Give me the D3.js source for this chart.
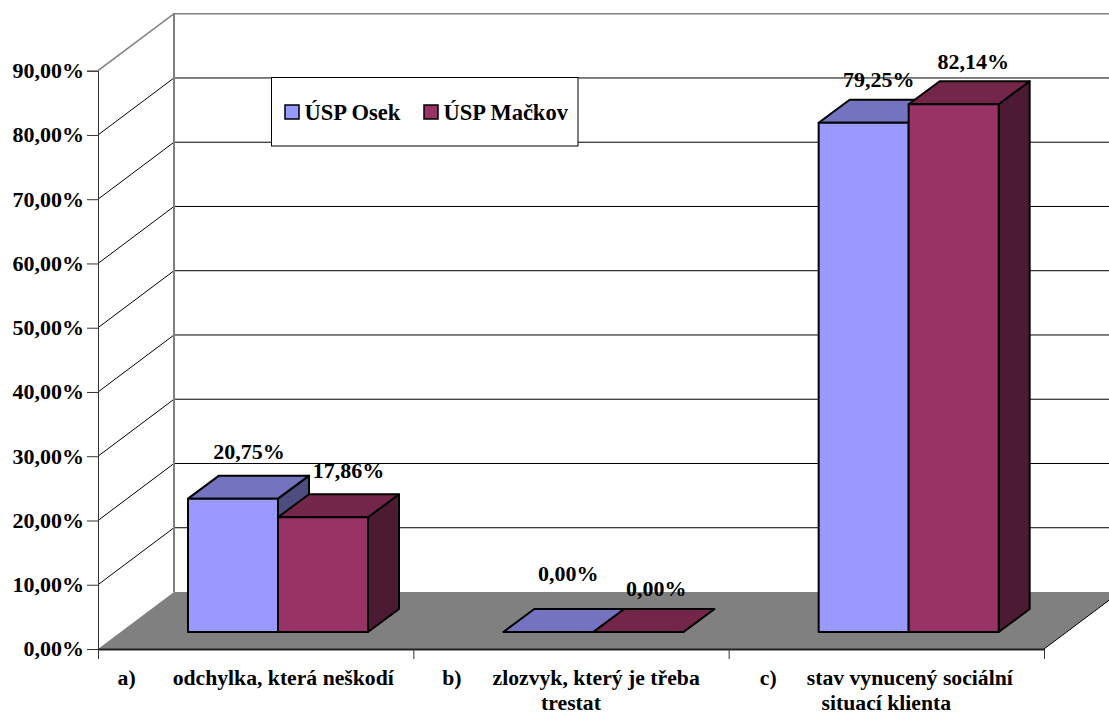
<!DOCTYPE html>
<html lang="cs">
<head>
<meta charset="utf-8">
<title>ÚSP Osek a ÚSP Mačkov</title>
<script src="https://cdn.jsdelivr.net/npm/d3@7"></script>
<style>
  html, body { margin: 0; padding: 0; background: #fff; }
  svg { display: block; }
  text { font-family: "Liberation Serif", "Times New Roman", serif; font-weight: 700; fill: #000; }
</style>
</head>
<body>
<svg id="chart" width="1109" height="715"></svg>
<script>
// Chart data
const categories = ["a", "b", "c"];
const categoryMarkers = ["a)", "b)", "c)"];
const categoryLines = [
  ["odchylka, která neškodí"],
  ["zlozvyk, který je třeba", "trestat"],
  ["stav vynucený sociální", "situací klienta"]
];
const seriesNames = ["ÚSP Osek", "ÚSP Mačkov"];
const osekValues = [20.75, 0, 79.25];
const mackovValues = [17.86, 0, 82.14];
const yTickValues = [0, 10, 20, 30, 40, 50, 60, 70, 80, 90];

// Hand-placed data label offsets from each bar's top centre: [dx, dy] by category
const osekLabelOffsets = [[16, -40], [20, -51], [15, -35.5]];
const mackovLabelOffsets = [[25.5, -39], [18, -36], [19.5, -35]];
// Space between a category's marker and its description
const markerGaps = [37, 31, 30];

// Oblique projection of the chart box
const plot = { left: 98, right: 1044, floorY: 649, topY: 70.7 };
const wallDepth = { x: 76, y: -57 };
const barDepth = { x: 31, y: -23 };
const barBaseY = 632;
const palette = {
  osek: { front: "#9999ff", top: "#7373bf", side: "#4d4d80" },
  mackov: { front: "#993366", top: "#732649", side: "#4d1a33" }
};

const svg = d3.select("#chart");
const fmtPct = v => d3.format(".2f")(v).replace(".", ",") + "%";

const y = d3.scaleLinear().domain([0, 90]).range([plot.floorY, plot.topY]);
const x0 = d3.scaleBand().domain(categories).range([plot.left, plot.right]);
const x1 = d3.scaleBand().domain(seriesNames).range([90, 270]);
const barHeight = v => y(0) - y(v);

// Walls: gridlines run from the left axis back to the rear wall and across it
const wall = svg.append("g");
yTickValues.forEach(t => {
  const isTop = t === 90;
  const back = y(t) + wallDepth.y;
  if (t > 0) {
    wall.append("path")
      .attr("d", d3.line()([
        [plot.left, y(t)],
        [plot.left + wallDepth.x, back],
        [plot.right + wallDepth.x, back]
      ]))
      .attr("fill", "none")
      .attr("stroke", isTop ? "#808080" : "#000")
      .attr("stroke-width", isTop ? 1.6 : 1);
  }
});
wall.append("line")
  .attr("x1", plot.left + wallDepth.x).attr("x2", plot.left + wallDepth.x)
  .attr("y1", y(90) + wallDepth.y).attr("y2", y(0) + wallDepth.y)
  .attr("stroke", "#808080").attr("stroke-width", 2);

// Floor plane
svg.append("polygon")
  .attr("points", [
    [plot.left, y(0)],
    [plot.left + wallDepth.x, y(0) + wallDepth.y],
    [plot.right + wallDepth.x, y(0) + wallDepth.y],
    [plot.right, y(0)]
  ].join(" "))
  .attr("fill", "#808080");
svg.append("line")
  .attr("x1", plot.right).attr("y1", y(0))
  .attr("x2", plot.right + wallDepth.x).attr("y2", y(0) + wallDepth.y)
  .attr("stroke", "#000").attr("stroke-width", 1);

// Axes
const yAxis = d3.axisLeft(y).tickValues(yTickValues).tickFormat(fmtPct).tickSize(11).tickPadding(3);
const yG = svg.append("g").attr("transform", `translate(${plot.left},0)`).call(yAxis);
yG.selectAll("text").style("font-size", "22px").attr("dy", "0.31em");
yG.selectAll("line").attr("stroke", "#333").attr("stroke-width", 1);
yG.select(".domain").attr("stroke", "#333").attr("stroke-width", 1);

const xAxis = d3.axisBottom(d3.scaleLinear().domain([0, 3]).range([plot.left, plot.right]))
  .tickValues([0, 1, 2, 3]).tickFormat("").tickSize(10).tickSizeOuter(0);
const xG = svg.append("g").attr("transform", `translate(0,${plot.floorY})`).call(xAxis);
xG.selectAll("line").attr("stroke", "#333").attr("stroke-width", 1);
xG.select(".domain").attr("stroke", "#222").attr("stroke-width", 2);

// Bars as oblique boxes
function drawBar(g, left, width, value, colors) {
  const top = barBaseY - barHeight(value);
  const right = left + width;
  const dx = barDepth.x, dy = barDepth.y;
  g.append("polygon")
    .attr("points", [[right, top], [right + dx, top + dy], [right + dx, barBaseY + dy], [right, barBaseY]].join(" "))
    .attr("fill", colors.side);
  g.append("polygon")
    .attr("points", [[left, top], [left + dx, top + dy], [right + dx, top + dy], [right, top]].join(" "))
    .attr("fill", colors.top);
  g.append("rect")
    .attr("x", left).attr("y", top)
    .attr("width", width).attr("height", barBaseY - top)
    .attr("fill", colors.front);
  g.selectAll("polygon, rect")
    .attr("stroke", "#000").attr("stroke-width", 2).attr("stroke-linejoin", "round");
}

const barsLayer = svg.append("g");
const labelsLayer = svg.append("g");
const seriesSpec = [
  { name: seriesNames[0], values: osekValues, colors: palette.osek, offsets: osekLabelOffsets },
  { name: seriesNames[1], values: mackovValues, colors: palette.mackov, offsets: mackovLabelOffsets }
];
categories.forEach((c, i) => {
  seriesSpec.forEach(s => {
    const left = x0(c) + x1(s.name);
    const w = x1.bandwidth();
    drawBar(barsLayer.append("g"), left, w, s.values[i], s.colors);
    const [dx, dy] = s.offsets[i];
    labelsLayer.append("text")
      .attr("x", left + w / 2 + dx)
      .attr("y", barBaseY - barHeight(s.values[i]) + dy)
      .attr("text-anchor", "middle")
      .attr("font-size", 22)
      .text(fmtPct(s.values[i]));
  });
});

// Category labels: the marker and first line are centred together under the band,
// any wrapped line is centred on its own
const catLayer = svg.append("g");
const catFontSize = 21.7;
const catLineYs = [685, 710];
categories.forEach((c, i) => {
  const centre = x0(c) + x0.bandwidth() / 2;
  const marker = catLayer.append("text")
    .attr("y", catLineYs[0]).attr("font-size", catFontSize)
    .text(categoryMarkers[i]);
  const first = catLayer.append("text")
    .attr("y", catLineYs[0]).attr("font-size", catFontSize)
    .text(categoryLines[i][0]);
  const mw = marker.node().getComputedTextLength();
  const fw = first.node().getComputedTextLength();
  const start = centre - (mw + markerGaps[i] + fw) / 2;
  marker.attr("x", start);
  first.attr("x", start + mw + markerGaps[i]);
  categoryLines[i].slice(1).forEach((line, j) => {
    catLayer.append("text")
      .attr("x", centre).attr("y", catLineYs[j + 1])
      .attr("text-anchor", "middle")
      .attr("font-size", catFontSize)
      .text(line);
  });
});

// Legend
const legend = svg.append("g");
legend.append("rect")
  .attr("x", 271.5).attr("y", 77.5).attr("width", 306.5).attr("height", 68.5)
  .attr("fill", "#fff").attr("stroke", "#000").attr("stroke-width", 1);
const legendX = [285, 424];
seriesSpec.forEach((s, i) => {
  legend.append("rect")
    .attr("x", legendX[i]).attr("y", 105).attr("width", 14).attr("height", 14)
    .attr("fill", s.colors.front).attr("stroke", "#000").attr("stroke-width", 1.5);
  legend.append("text")
    .attr("x", legendX[i] + 19.5).attr("y", 119.5)
    .attr("font-size", 22.5)
    .text(s.name);
});
</script>
</body>
</html>
